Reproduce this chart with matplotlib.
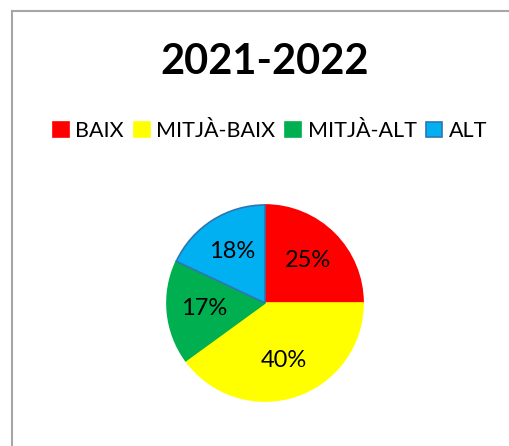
import matplotlib
matplotlib.use("Agg")
import matplotlib.pyplot as plt
from matplotlib.patches import Patch
from matplotlib.lines import Line2D

plt.rcParams['font.family'] = ['Lato', 'DejaVu Sans']

title = "2021-2022"
labels = ["BAIX", "MITJÀ-BAIX", "MITJÀ-ALT", "ALT"]
values = [25, 40, 17, 18]
colors = ["#FF0000", "#FFFF00", "#00B050", "#00B0F0"]
edges = ["#FF0000", "#FFFF00", "#00B050", "#2E75B6"]

W, H = 509, 446
fig = plt.figure(figsize=(W / 100, H / 100), dpi=100)

# chart frame (only top and left visible in the crop)
fig.add_artist(Line2D([11.5 / W, 11.5 / W], [0, 1 - 10.5 / H], color="#a6a6a6", lw=1.5))
fig.add_artist(Line2D([11.5 / W, 1], [1 - 10.5 / H, 1 - 10.5 / H], color="#a6a6a6", lw=1.5))

# pie axes: centre (265, 303) px, radius 100 px
ax = fig.add_axes([165 / W, (H - 403) / H, 200 / W, 200 / H])
wedges, texts, autotexts = ax.pie(values, colors=colors, startangle=90, counterclock=False,
                                  autopct='%1.0f%%', pctdistance=0.62, radius=1,
                                  wedgeprops=dict(linewidth=1.2),
                                  textprops=dict(fontsize=17, color="black"))
for w, e in zip(wedges, edges):
    w.set_edgecolor(e)
ax.set_xlim(-1.02, 1.02)
ax.set_ylim(-1.02, 1.02)
ax.set_aspect('equal')
ax.axis('off')

fig.text(265 / W, 1 - 62 / H, title, ha='center', va='center', fontsize=30, fontweight='bold')

handles = [Patch(facecolor=c, edgecolor=e, linewidth=1.2) for c, e in zip(colors, edges)]
fig.legend(handles, labels, loc='center', bbox_to_anchor=(270 / W, 1 - 131 / H), ncol=4,
           frameon=False, fontsize=15.5, handlelength=0.75, handleheight=0.75,
           handletextpad=0.3, columnspacing=0.45)

fig.savefig("out.png", dpi=100)
